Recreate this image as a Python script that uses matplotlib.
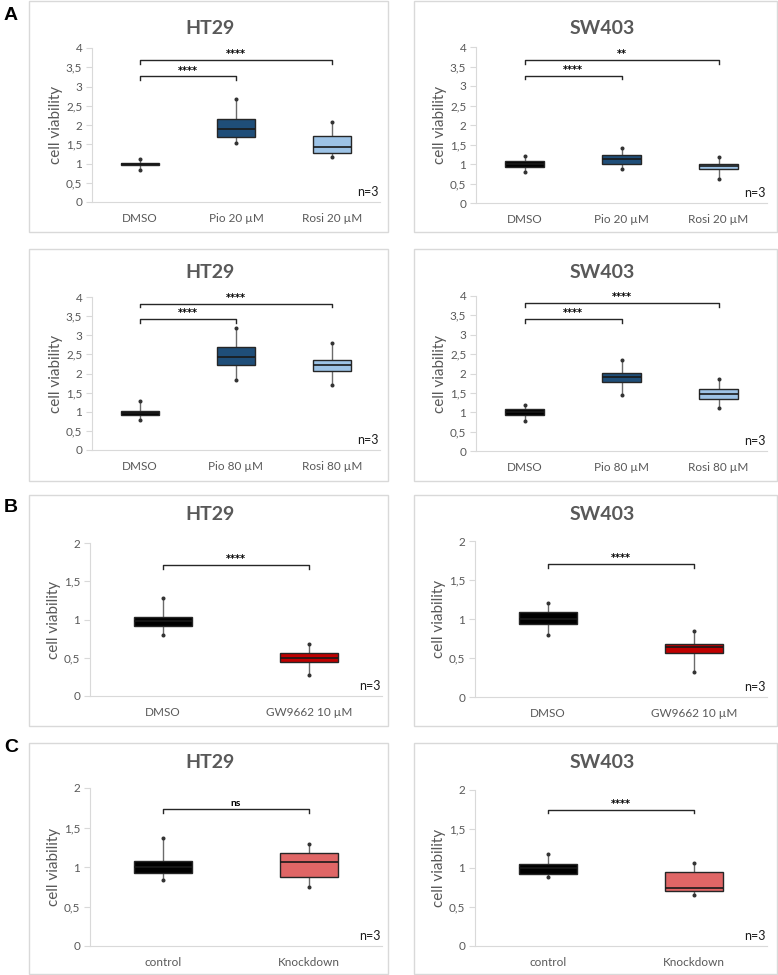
import matplotlib
matplotlib.use("Agg")
import matplotlib.pyplot as plt
from matplotlib.patches import Rectangle
from matplotlib.ticker import FuncFormatter

plt.rcParams['font.family'] = ['Lato', 'DejaVu Sans']

# ---- data: (whisker low, q1, median, q3, whisker high) per box ----
cats_20 = ["DMSO", "Pio 20 µM", "Rosi 20 µM"]
cats_80 = ["DMSO", "Pio 80 µM", "Rosi 80 µM"]
cats_gw = ["DMSO", "GW9662 10 µM"]
cats_kd = ["control", "Knockdown"]

ht29_20 = [[0.84, 0.97, 1.00, 1.02, 1.12], [1.54, 1.69, 1.90, 2.16, 2.68], [1.16, 1.28, 1.43, 1.71, 2.09]]
sw403_20 = [[0.79, 0.92, 1.00, 1.08, 1.20], [0.88, 1.01, 1.13, 1.24, 1.42], [0.62, 0.86, 0.94, 1.01, 1.18]]
ht29_80 = [[0.79, 0.91, 0.98, 1.03, 1.27], [1.83, 2.23, 2.43, 2.70, 3.20], [1.71, 2.06, 2.23, 2.35, 2.80]]
sw403_80 = [[0.78, 0.94, 1.00, 1.08, 1.20], [1.44, 1.78, 1.91, 2.02, 2.34], [1.11, 1.34, 1.47, 1.59, 1.87]]
ht29_gw = [[0.80, 0.92, 0.98, 1.03, 1.28], [0.27, 0.45, 0.50, 0.565, 0.68]]
sw403_gw = [[0.79, 0.93, 1.00, 1.09, 1.20], [0.32, 0.56, 0.64, 0.68, 0.84]]
ht29_kd = [[0.84, 0.92, 1.00, 1.07, 1.37], [0.75, 0.87, 1.065, 1.18, 1.285]]
sw403_kd = [[0.89, 0.92, 1.00, 1.05, 1.175], [0.65, 0.71, 0.75, 0.95, 1.06]]

# significance: (group a, group b, bracket level, label)
sig_ht29_20 = [(0, 1, 3.26, "****"), (0, 2, 3.68, "****")]
sig_sw403_20 = [(0, 1, 3.26, "****"), (0, 2, 3.66, "**")]
sig_ht29_80 = [(0, 1, 3.42, "****"), (0, 2, 3.83, "****")]
sig_sw403_80 = [(0, 1, 3.40, "****"), (0, 2, 3.81, "****")]
sig_ht29_gw = [(0, 1, 1.71, "****")]
sig_sw403_gw = [(0, 1, 1.70, "****")]
sig_ht29_kd = [(0, 1, 1.73, "ns")]
sig_sw403_kd = [(0, 1, 1.75, "****")]

col_3 = ["#000000", "#1F4E79", "#9DC3E6"]
col_gw = ["#000000", "#C00000"]
col_kd = ["#000000", "#E06666"]

W, H = 778, 975
fig = plt.figure(figsize=(W / 100, H / 100), dpi=100)

GRAY = "#595959"


def px_axes(x0, x1, ybot, ytop):
    return fig.add_axes([x0 / W, 1 - ybot / H, (x1 - x0) / W, (ybot - ytop) / H])


def frame(x0, x1, y0, y1):
    fig.patches.append(Rectangle((x0 / W, 1 - y1 / H), (x1 - x0) / W, (y1 - y0) / H,
                                 transform=fig.transFigure, fill=False,
                                 edgecolor="#D9D9D9", lw=1.0))


def comma(v, pos):
    s = ("%g" % v)
    return s.replace(".", ",")


def panel(ax, cats, data, colors, sigs, ymax, step, title, title_x, title_y):
    stats = []
    for c, d in zip(cats, data):
        stats.append(dict(label=c, whislo=d[0], q1=d[1], med=d[2], q3=d[3], whishi=d[4],
                          fliers=[d[0], d[4]]))
    bp = ax.bxp(stats, positions=range(len(cats)), widths=0.4, patch_artist=True,
                showcaps=False,
                whiskerprops=dict(color="#6b6b6b", lw=1.0),
                medianprops=dict(color="#1a1a1a", lw=1.2),
                flierprops=dict(marker="o", markersize=1.9, markerfacecolor="#333333",
                                markeredgecolor="#333333"),
                boxprops=dict(edgecolor="#262626", lw=1.0))
    for patch, c in zip(bp["boxes"], colors):
        patch.set_facecolor(c)
    for w in bp["whiskers"]:
        w.set_zorder(1)
    ax.set_xlim(-0.5, len(cats) - 0.5)
    ax.set_ylim(0, ymax)
    ticks = [i * step for i in range(int(round(ymax / step)) + 1)]
    ax.set_yticks(ticks)
    ax.yaxis.set_major_formatter(FuncFormatter(comma))
    for s in ["top", "right"]:
        ax.spines[s].set_visible(False)
    ax.spines["left"].set_color("#D9D9D9")
    ax.spines["bottom"].set_color("#D9D9D9")
    ax.tick_params(axis="y", colors=GRAY, labelsize=8.5, length=4, width=0.8,
                   color="#D9D9D9", pad=3)
    ax.tick_params(axis="x", colors=GRAY, labelsize=8.5, length=0, pad=8)
    ax.set_ylabel("cell viability", color=GRAY, fontsize=11, labelpad=2)
    ax.text(0.995, 0.025, "n=3", transform=ax.transAxes, ha="right", va="bottom",
            fontsize=9, color="#1a1a1a")
    tick = ymax * 0.022
    for a, b, lvl, lab in sigs:
        ax.plot([a, a, b, b], [lvl - tick, lvl, lvl, lvl - tick], color="#262626", lw=1.0,
                clip_on=False)
        if lab == "ns":
            ax.text((a + b) / 2, lvl + ymax * 0.01, lab, ha="center", va="bottom",
                    fontsize=7.5, fontweight="bold", color="#000000")
        else:
            ax.text((a + b) / 2, lvl + ymax * 0.006, lab, ha="center", va="bottom",
                    fontsize=7, fontweight="bold", color="#000000",
                    family=["DejaVu Sans"])
    fig.text(title_x / W, 1 - title_y / H, title, ha="center", va="center",
             fontsize=14, fontweight="bold", color=GRAY)


# frames
for y0, y1 in [(1, 232), (249, 481), (495, 726), (743, 974)]:
    frame(29, 388, y0, y1)
    frame(414, 777, y0, y1)

ax = px_axes(92, 380, 202, 48)
panel(ax, cats_20, ht29_20, col_3, sig_ht29_20, 4, 0.5, "HT29", 210, 29)
ax = px_axes(476, 767, 203, 47)
panel(ax, cats_20, sw403_20, col_3, sig_sw403_20, 4, 0.5, "SW403", 602, 29)
ax = px_axes(92, 380, 450, 297)
panel(ax, cats_80, ht29_80, col_3, sig_ht29_80, 4, 0.5, "HT29", 210, 273)
ax = px_axes(476, 767, 451, 296)
panel(ax, cats_80, sw403_80, col_3, sig_sw403_80, 4, 0.5, "SW403", 602, 273)
ax = px_axes(90, 382, 696, 543)
panel(ax, cats_gw, ht29_gw, col_gw, sig_ht29_gw, 2, 0.5, "HT29", 210, 515)
ax = px_axes(475, 767, 697, 541)
panel(ax, cats_gw, sw403_gw, col_gw, sig_sw403_gw, 2, 0.5, "SW403", 602, 515)
ax = px_axes(90, 382, 946, 788)
panel(ax, cats_kd, ht29_kd, col_kd, sig_ht29_kd, 2, 0.5, "HT29", 210, 763)
ax = px_axes(475, 767, 946, 790)
panel(ax, cats_kd, sw403_kd, col_kd, sig_sw403_kd, 2, 0.5, "SW403", 602, 763)

# panel letters
for lab, y in [("A", 15), ("B", 507), ("C", 747)]:
    fig.text(4 / W, 1 - y / H, lab, ha="left", va="center", fontsize=14,
             fontweight="bold", family=["Liberation Sans", "DejaVu Sans"])

fig.savefig("out.png", dpi=100)
